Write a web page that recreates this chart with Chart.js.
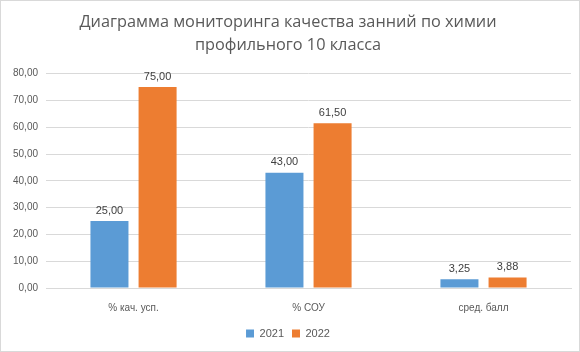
<!DOCTYPE html>
<html>
<head>
<meta charset="utf-8">
<script src="https://cdn.jsdelivr.net/npm/chart.js"></script>
<style>
  html, body { margin: 0; padding: 0; background: #fff; }
  #wrap { position: absolute; left: 0; top: 0; width: 578px; height: 350px; border: 1px solid #d9d9d9; }
</style>
</head>
<body>
<div id="wrap"><canvas id="chart" width="578" height="350"></canvas></div>
<script>
const categories = ['% кач. усп.', '% СОУ', 'сред. балл'];
const values2021 = [25.00, 43.00, 3.25];
const values2022 = [75.00, 61.50, 3.88];
const seriesNames = ['2021', '2022'];

function fmt(v) {
    return v.toFixed(2).replace('.', ',');
}

// draws the value above each bar
const valueLabels = {
    id: 'valueLabels',
    afterDatasetsDraw(chart) {
        const c = chart.ctx;
        c.save();
        c.font = '11px "Liberation Sans", Arial, sans-serif';
        c.fillStyle = '#404040';
        c.textAlign = 'center';
        c.textBaseline = 'bottom';
        chart.data.datasets.forEach((ds, i) => {
            chart.getDatasetMeta(i).data.forEach((bar, j) => {
                c.fillText(fmt(ds.data[j]), bar.x, bar.y - 5);
            });
        });
        c.restore();
    }
};

const ctx = document.getElementById('chart').getContext('2d');
const chart = new Chart(ctx, {
    type: 'bar',
    data: {
        labels: categories,
        datasets: [{
            label: seriesNames[0],
            data: values2021,
            backgroundColor: '#5B9BD5',
            categoryPercentage: 0.55,
            barPercentage: 0.79
        }, {
            label: seriesNames[1],
            data: values2022,
            backgroundColor: '#ED7D31',
            categoryPercentage: 0.55,
            barPercentage: 0.79
        }]
    },
    options: {
        responsive: false,
        animation: false,
        layout: { padding: { left: 4, right: 8, top: 0, bottom: 2 } },
        plugins: {
            title: {
                display: true,
                text: ['Диаграмма мониторинга качества занний по химии', 'профильного 10 класса'],
                color: '#595959',
                font: { family: '"Open Sans", sans-serif', size: 16.3, weight: 'normal', lineHeight: 1.4 },
                padding: { top: 10, bottom: 17 }
            },
            legend: {
                position: 'bottom',
                labels: {
                    color: '#595959',
                    font: { family: '"Liberation Sans", Arial, sans-serif', size: 11 },
                    boxWidth: 8,
                    boxHeight: 8,
                    padding: 8
                }
            },
            tooltip: { enabled: false }
        },
        scales: {
            x: {
                grid: { display: false },
                border: { color: '#d9d9d9' },
                ticks: {
                    color: '#595959',
                    font: { family: '"Liberation Sans", Arial, sans-serif', size: 10 },
                    padding: 6
                }
            },
            y: {
                min: 0,
                max: 80,
                grid: { color: '#d9d9d9', drawTicks: false },
                border: { display: false },
                ticks: {
                    stepSize: 10,
                    color: '#595959',
                    font: { family: '"Liberation Sans", Arial, sans-serif', size: 10 },
                    padding: 8,
                    callback: v => fmt(v)
                }
            }
        }
    },
    plugins: [valueLabels]
});
</script>
</body>
</html>
